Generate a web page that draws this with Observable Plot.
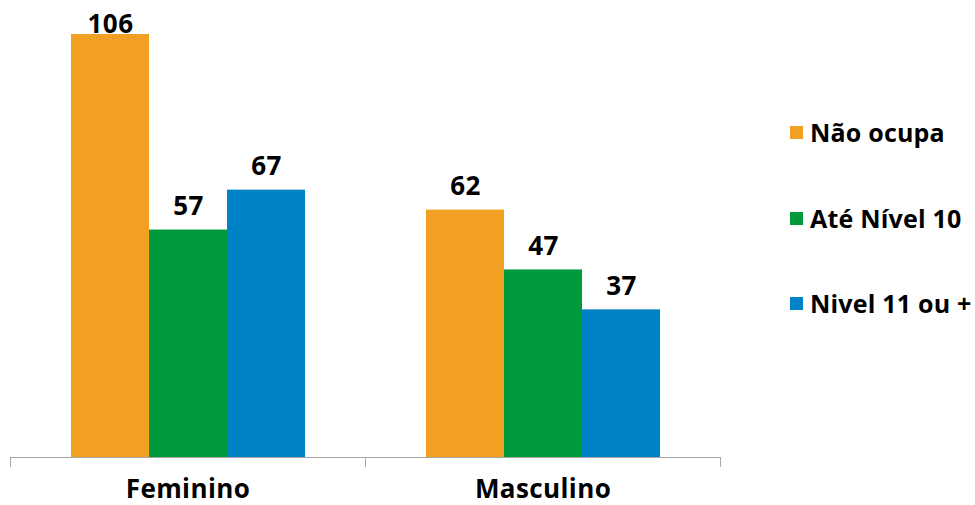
<!DOCTYPE html>
<html>
<head>
<meta charset="utf-8">
<script src="https://cdn.jsdelivr.net/npm/d3@7"></script>
<script src="https://cdn.jsdelivr.net/npm/@observablehq/plot@0.6"></script>
<style>
  body { margin: 0; background: #fff; font-family: "Open Sans", sans-serif; }
  #wrap { position: relative; width: 975px; height: 505px; }
  #legend { position: absolute; left: 790px; top: 0; font-weight: 700; font-size: 25px; letter-spacing: 0.2px; color: #000; }
  .item { position: absolute; left: 0; white-space: nowrap; display: flex; align-items: center; height: 28px; }
  .sw { width: 13px; height: 13px; margin-right: 7px; display: inline-block; }
  svg text { letter-spacing: 0.4px; }
</style>
</head>
<body>
<div id="wrap"><div id="legend"></div></div>
<script>
const groups = ["Feminino", "Masculino"];
const series = ["Não ocupa", "Até Nível 10", "Nivel 11 ou +"];
const feminino = [106, 57, 67];
const masculino = [62, 47, 37];
const colors = ["#F2A024", "#009A3D", "#0083C6"];
const labelCeiling = 102.8;

const rows = [];
[feminino, masculino].forEach((vals, gi) => {
  vals.forEach((v, si) => rows.push({group: groups[gi], series: series[si], value: v}));
});

const chart = Plot.plot({
  width: 975,
  height: 505,
  marginLeft: 10,
  marginRight: 255,
  marginTop: 34,
  marginBottom: 48,
  style: {fontFamily: "'Open Sans', sans-serif", fontSize: "26px", fontWeight: 700, color: "#000"},
  fx: {domain: groups, padding: 0, axis: "bottom", tickSize: 0, tickPadding: 22, label: null},
  x: {domain: series, axis: null, paddingInner: 0, paddingOuter: 0.756},
  y: {domain: [0, 106], axis: null},
  color: {domain: series, range: colors},
  marks: [
    Plot.barY(rows, {fx: "group", x: "series", y: "value", fill: "series"}),
    Plot.ruleY([0], {stroke: "#A6A6A6", strokeWidth: 1}),
    Plot.frame({anchor: "left", stroke: "#A6A6A6", insetTop: 423, insetBottom: -9}),
    Plot.frame({anchor: "right", stroke: "#A6A6A6", insetTop: 423, insetBottom: -9}),
    Plot.text(rows, {fx: "group", x: "series", y: d => Math.min(d.value, labelCeiling), text: d => String(d.value),
      dy: -23, fill: "#000", fontSize: 26, fontWeight: 700})
  ]
});
document.getElementById("wrap").prepend(chart);
chart.style.position = "absolute";
chart.style.left = "0";
chart.style.top = "0";

const legend = document.getElementById("legend");
const legendTops = [118, 204, 289];
series.forEach((s, i) => {
  const it = document.createElement("div");
  it.className = "item";
  it.style.top = legendTops[i] + "px";
  const sw = document.createElement("span");
  sw.className = "sw";
  sw.style.background = colors[i];
  it.appendChild(sw);
  it.appendChild(document.createTextNode(s));
  legend.appendChild(it);
});
</script>
</body>
</html>
